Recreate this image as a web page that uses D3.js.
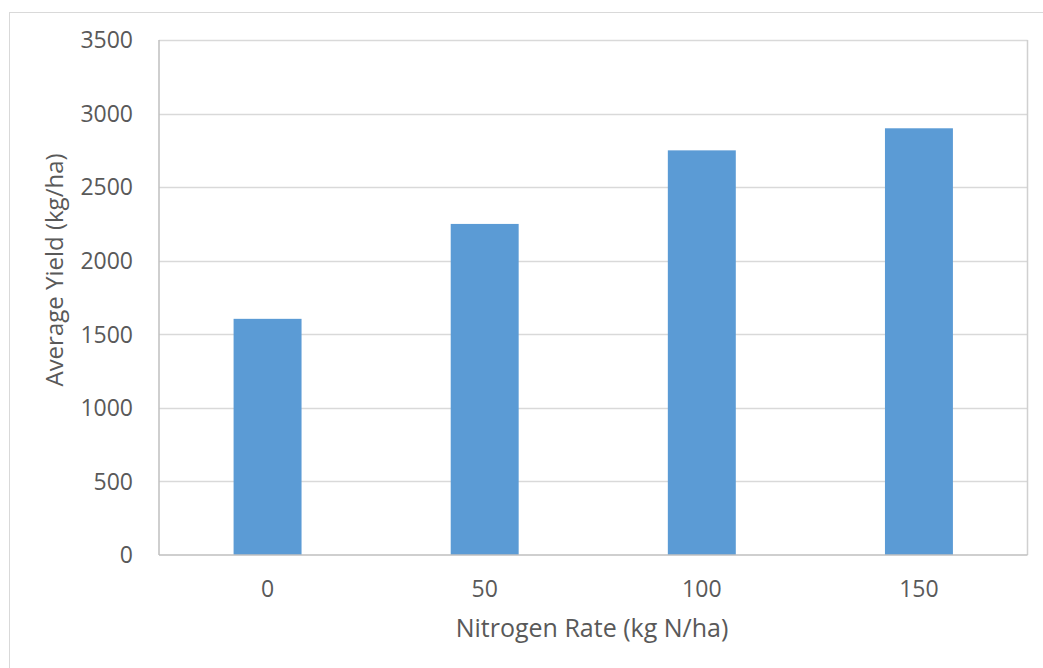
<!DOCTYPE html>
<html>
<head>
<meta charset="utf-8">
<script src="https://cdn.jsdelivr.net/npm/d3@7"></script>
<style>
  body { margin: 0; background: #fff; }
  text { font-family: 'Open Sans', sans-serif; fill: #595959; }
</style>
</head>
<body>
<script>
let categories = ['0', '50', '100', '150']
let yields = [1605, 2250, 2750, 2900]
let yTicks = [0, 500, 1000, 1500, 2000, 2500, 3000, 3500]

renderChart()

function renderChart() {
  let width = 1043
  let height = 668
  let plot = { left: 159, right: 1027.5, top: 40, bottom: 555 }

  let svg = d3.select('body').append('svg')
    .attr('width', width)
    .attr('height', height)

  // chart frame (only left/top fall inside the picture)
  svg.append('rect')
    .attr('x', 9.5).attr('y', 12.5)
    .attr('width', 1045).attr('height', 670)
    .attr('fill', 'none')
    .attr('stroke', '#d9d9d9')

  let xScale = d3.scaleBand()
    .domain(categories)
    .range([plot.left, plot.right])
    .paddingInner(0.687)
    .paddingOuter(0.3435)

  let yScale = d3.scaleLinear()
    .domain([0, 3500])
    .range([plot.bottom, plot.top])

  // gridlines
  svg.append('g')
    .selectAll('line')
    .data(yTicks.filter(d => d > 0))
    .enter()
    .append('line')
    .attr('x1', plot.left)
    .attr('x2', plot.right)
    .attr('y1', d => Math.round(yScale(d)) + 0.5)
    .attr('y2', d => Math.round(yScale(d)) + 0.5)
    .attr('stroke', '#d9d9d9')
    .attr('stroke-width', 1.5)

  // right border of plot area
  svg.append('line')
    .attr('x1', plot.right).attr('x2', plot.right)
    .attr('y1', plot.top).attr('y2', plot.bottom)
    .attr('stroke', '#d0d0d0')
    .attr('stroke-width', 1.5)

  // bars
  svg.append('g')
    .selectAll('rect')
    .data(yields)
    .enter()
    .append('rect')
    .attr('x', (d, i) => xScale(categories[i]))
    .attr('width', xScale.bandwidth())
    .attr('y', d => yScale(d))
    .attr('height', d => yScale(0) - yScale(d))
    .attr('fill', '#5b9bd5')

  // axis lines
  svg.append('line')
    .attr('x1', plot.left).attr('x2', plot.left)
    .attr('y1', plot.top).attr('y2', plot.bottom)
    .attr('stroke', '#bfbfbf')
    .attr('stroke-width', 1.5)
  svg.append('line')
    .attr('x1', plot.left).attr('x2', plot.right)
    .attr('y1', plot.bottom).attr('y2', plot.bottom)
    .attr('stroke', '#bfbfbf')
    .attr('stroke-width', 1.5)

  // y tick labels
  svg.append('g')
    .selectAll('text')
    .data(yTicks)
    .enter()
    .append('text')
    .attr('x', 133)
    .attr('y', d => yScale(d))
    .attr('dy', '0.36em')
    .attr('text-anchor', 'end')
    .style('font-size', '23px')
    .text(d => d)

  // x tick labels
  svg.append('g')
    .selectAll('text')
    .data(categories)
    .enter()
    .append('text')
    .attr('x', d => xScale(d) + xScale.bandwidth() / 2)
    .attr('y', 597)
    .attr('text-anchor', 'middle')
    .style('font-size', '23px')
    .text(d => d)

  // axis titles
  svg.append('text')
    .attr('x', 592)
    .attr('y', 637)
    .attr('text-anchor', 'middle')
    .style('font-size', '25px')
    .text('Nitrogen Rate (kg N/ha)')

  svg.append('text')
    .attr('transform', 'translate(63,270) rotate(-90)')
    .attr('text-anchor', 'middle')
    .style('font-size', '24px')
    .text('Average Yield (kg/ha)')
}
</script>
</body>
</html>
